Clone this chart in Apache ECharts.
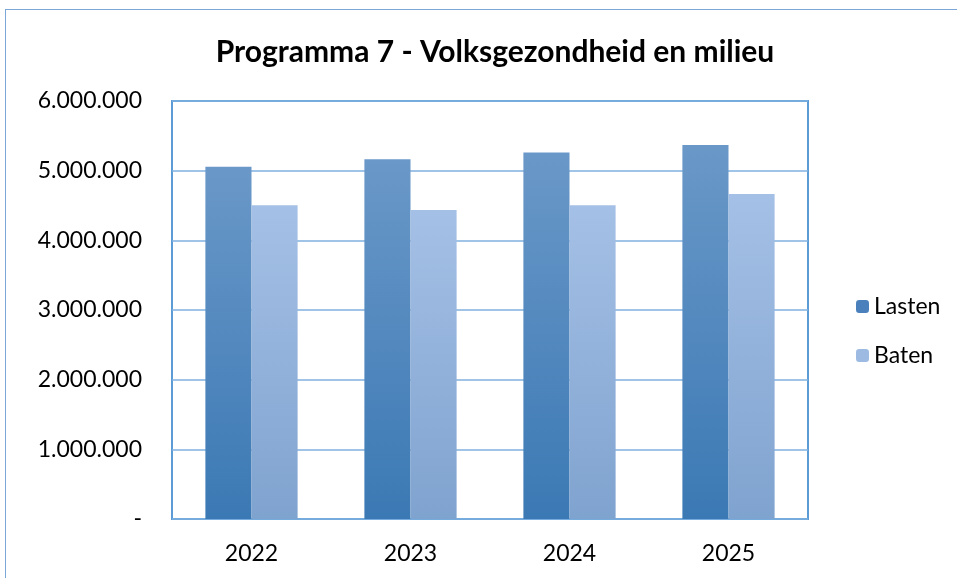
<!DOCTYPE html>
<html>
<head>
<meta charset="utf-8">
<script src="https://cdn.jsdelivr.net/npm/echarts@6/dist/echarts.min.js"></script>
<style>
  html, body { margin: 0; padding: 0; background: #fff; }
  #chart { width: 957px; height: 578px; }
  .frame {
    position: absolute; left: 5px; top: 9px; right: 0; bottom: 0;
    border-top: 1px solid #7aa7d8; border-left: 1px solid #7aa7d8;
    pointer-events: none;
  }
</style>
</head>
<body>
<div id="chart"></div>
<div class="frame"></div>
<script>
  // jaren en bedragen
  var years = ['2022', '2023', '2024', '2025'];
  var lasten = [5055000, 5165000, 5260000, 5370000];
  var baten = [4505000, 4435000, 4505000, 4665000];

  var font = 'Lato, "Open Sans", sans-serif';

  function grad(top, bottom) {
    return new echarts.graphic.LinearGradient(0, 0, 0, 1, [
      { offset: 0, color: top },
      { offset: 1, color: bottom }
    ]);
  }

  var chart = echarts.init(document.getElementById('chart'));
  var option = {
    animation: false,
    title: {
      text: 'Programma 7 - Volksgezondheid en milieu',
      left: 490,
      textAlign: 'center',
      top: 32,
      textStyle: { fontFamily: font, fontSize: 30, fontWeight: 'bold', color: '#000' }
    },
    legend: {
      orient: 'vertical',
      left: 851,
      top: 290,
      itemWidth: 13,
      itemHeight: 13,
      itemGap: 26,
      textStyle: { fontFamily: font, fontSize: 23, color: '#000' },
      data: [
        { name: 'Lasten', itemStyle: { color: '#4a80bb' } },
        { name: 'Baten', itemStyle: { color: '#9dbbe2' } }
      ]
    },
    grid: {
      left: 172, top: 101, right: 149, bottom: 59,
      show: true, borderColor: '#5d9bd6', borderWidth: 2
    },
    xAxis: {
      type: 'category',
      data: years,
      axisLine: { show: false },
      axisTick: { show: false },
      axisLabel: { fontFamily: font, fontSize: 23, color: '#000', margin: 23 }
    },
    yAxis: {
      type: 'value',
      min: 0, max: 6000000, interval: 1000000,
      axisLine: { show: false },
      axisTick: { show: false },
      splitLine: { lineStyle: { color: '#7fb0e0', width: 1.5 } },
      axisLabel: {
        fontFamily: font, fontSize: 23, color: '#000', margin: 30,
        formatter: function (v) {
          if (v === 0) return '-';
          return String(v).replace(/\B(?=(\d{3})+(?!\d))/g, '.');
        }
      }
    },
    series: [
      {
        name: 'Lasten', type: 'bar', data: lasten,
        barGap: '0%', barCategoryGap: '42%',
        itemStyle: { color: grad('#6a98c8', '#3b79b4') }
      },
      {
        name: 'Baten', type: 'bar', data: baten,
        itemStyle: { color: grad('#a5c0e6', '#7fa3cf') }
      }
    ]
  };
  chart.setOption(option);
</script>
</body>
</html>
